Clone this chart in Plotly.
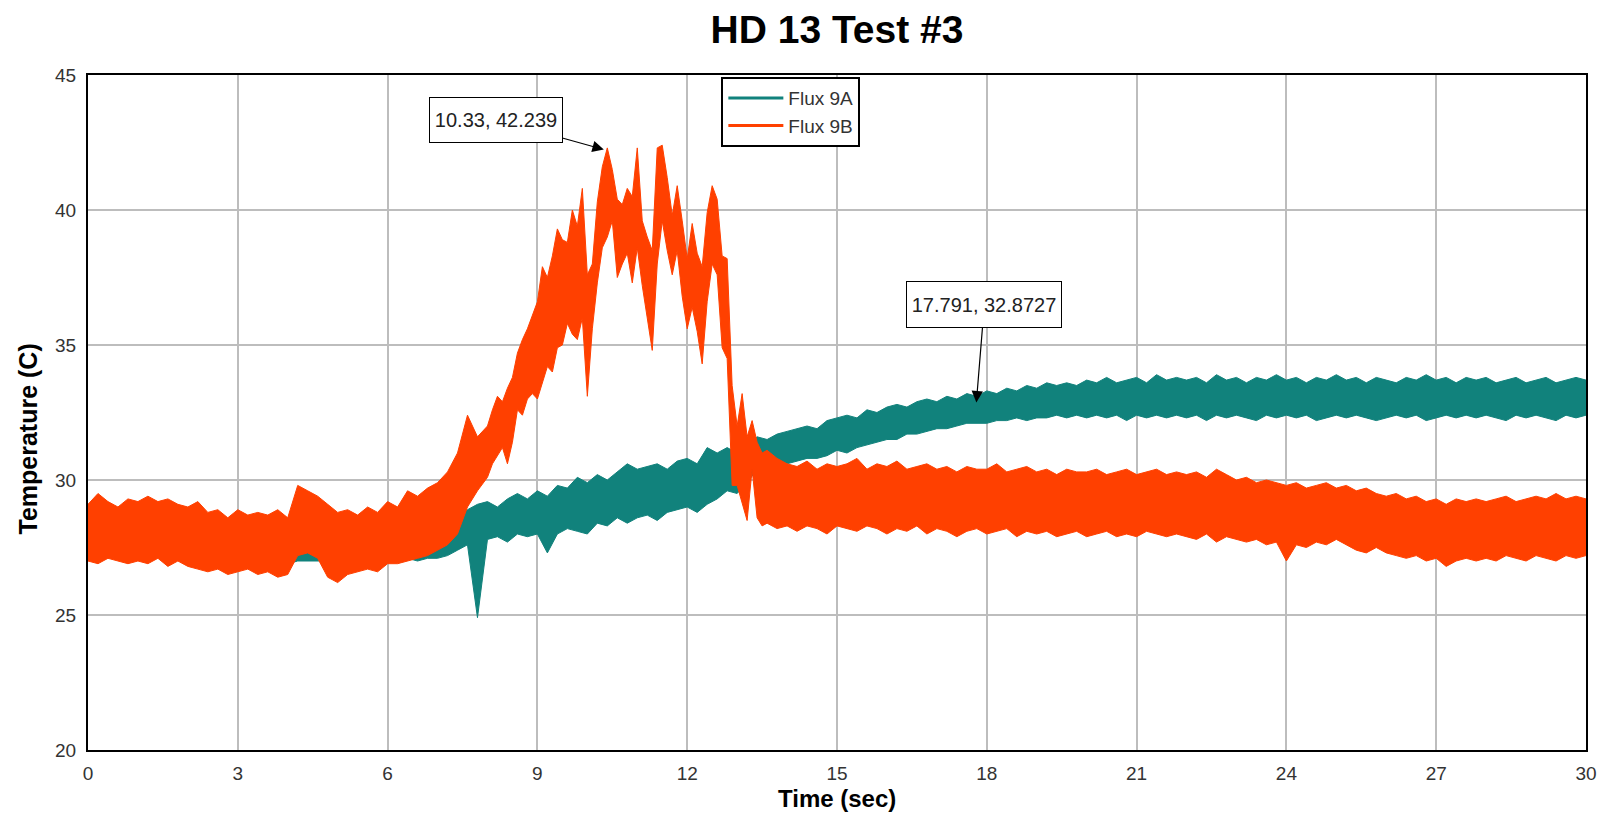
import plotly.graph_objects as go

# ---------------- data ----------------
# Flux 9A sample times: 0.0 .. 30.0 s every 0.2 s
time_9a = [round(i * 0.2, 1) for i in range(151)]
# Flux 9B sample times: 0.2 s steps, finer 0.1 s steps through the 8-13.6 s peak
time_9b = ([round(i * 0.2, 1) for i in range(40)]
           + [round(8.0 + i * 0.1, 1) for i in range(57)]
           + [round(13.8 + i * 0.2, 1) for i in range(82)])

# Flux 9A (teal): upper / lower extent of the noisy trace at each sample time
flux9a_hi = [
    28.7, 28.9, 28.6, 28.8, 28.7, 28.9, 28.8, 28.7, 28.9, 28.6,   # 0-2
    28.5, 28.6, 28.4, 28.5, 28.3, 28.5, 28.4, 28.3, 28.5, 28.3,   # 2-4
    28.4, 28.9, 28.8, 28.7, 28.4, 28.3, 28.4, 28.3, 28.4, 28.5,   # 4-6
    28.4, 28.5, 28.4, 28.5, 28.3, 28.5, 28.4, 28.7, 28.9, 29.1,   # 6-8
    29.2, 29.0, 29.3, 29.5, 29.3, 29.6, 29.4, 29.8, 29.7, 30.1,   # 8-10
    29.9, 30.2, 30.0, 30.3, 30.6, 30.4, 30.5, 30.6, 30.4, 30.7,   # 10-12
    30.8, 30.6, 31.2, 31.0, 31.2, 31.0, 31.3, 31.6, 31.5, 31.7,   # 12-14
    31.8, 31.9, 32.0, 31.9, 32.2, 32.3, 32.4, 32.3, 32.6, 32.5,   # 14-16
    32.7, 32.8, 32.7, 32.9, 33.0, 32.9, 33.1, 33.0, 33.2, 33.1,   # 16-18
    33.3, 33.2, 33.4, 33.3, 33.5, 33.4, 33.6, 33.5, 33.6, 33.5,   # 18-20
    33.7, 33.6, 33.8, 33.6, 33.7, 33.8, 33.6, 33.9, 33.7, 33.8,   # 20-22
    33.7, 33.8, 33.6, 33.9, 33.7, 33.8, 33.6, 33.8, 33.7, 33.9,   # 22-24
    33.7, 33.8, 33.6, 33.8, 33.7, 33.9, 33.7, 33.8, 33.6, 33.8,   # 24-26
    33.7, 33.6, 33.8, 33.7, 33.9, 33.7, 33.8, 33.6, 33.8, 33.7,   # 26-28
    33.8, 33.6, 33.7, 33.8, 33.6, 33.7, 33.8, 33.6, 33.7, 33.8,   # 28-30
    33.7,
]
flux9a_lo = [
    27.2, 27.1, 27.3, 27.2, 27.1, 27.2, 27.0, 27.2, 27.1, 27.2,   # 0-2
    27.0, 27.0, 26.9, 27.0, 26.9, 26.9, 27.0, 26.9, 26.9, 26.9,   # 2-4
    26.9, 27.0, 27.0, 27.0, 27.0, 26.9, 26.9, 26.9, 26.9, 27.0,   # 4-6
    27.0, 27.0, 27.1, 27.0, 27.1, 27.1, 27.2, 27.4, 27.6, 24.9,   # 6-8
    27.8, 27.9, 27.7, 28.0, 27.9, 28.0, 27.3, 28.0, 28.2, 28.1,   # 8-10
    28.0, 28.4, 28.3, 28.6, 28.4, 28.6, 28.7, 28.5, 28.8, 28.9,   # 10-12
    29.0, 28.8, 29.1, 29.3, 29.6, 29.5, 29.9, 30.4, 30.5, 30.6,   # 12-14
    30.6, 30.7, 30.8, 30.8, 30.9, 31.1, 31.0, 31.2, 31.3, 31.4,   # 14-16
    31.5, 31.5, 31.7, 31.7, 31.8, 31.9, 31.9, 32.0, 32.1, 32.1,   # 16-18
    32.1, 32.2, 32.2, 32.3, 32.2, 32.3, 32.3, 32.4, 32.3, 32.4,   # 18-20
    32.3, 32.4, 32.3, 32.4, 32.2, 32.4, 32.3, 32.4, 32.3, 32.4,   # 20-22
    32.3, 32.4, 32.2, 32.4, 32.3, 32.4, 32.3, 32.2, 32.4, 32.3,   # 22-24
    32.4, 32.3, 32.4, 32.2, 32.3, 32.4, 32.3, 32.4, 32.3, 32.2,   # 24-26
    32.3, 32.4, 32.3, 32.4, 32.2, 32.3, 32.4, 32.3, 32.4, 32.3,   # 26-28
    32.4, 32.3, 32.2, 32.4, 32.3, 32.4, 32.3, 32.2, 32.4, 32.3,   # 28-30
    32.4,
]

# Flux 9B (orange-red)
flux9b_hi = [
    29.1, 29.5, 29.2, 29.0, 29.3, 29.2, 29.4, 29.2, 29.3, 29.1,   # 0-2 (0.2 s)
    29.0, 29.2, 28.8, 28.9, 28.6, 28.9, 28.7, 28.8, 28.7, 28.9,   # 2-4
    28.6, 29.8, 29.6, 29.4, 29.1, 28.8, 28.9, 28.7, 29.0, 28.8,   # 4-6
    29.2, 29.0, 29.6, 29.4, 29.7, 29.9, 30.3, 31.0, 32.4, 31.6,   # 6-8
    32.0, 32.6, 33.1, 32.9, 33.4, 33.8, 34.7, 35.2, 35.6, 36.1,   # 8.0-8.9 (0.1 s)
    36.6, 37.9, 37.5, 38.3, 39.3, 38.9, 38.8, 40.0, 39.4, 40.8,   # 9.0-9.9
    37.6, 38.0, 40.3, 41.6, 42.3, 41.5, 40.4, 40.2, 40.8, 40.5,   # 10.0-10.9
    42.3, 39.6, 39.0, 38.5, 42.3, 42.4, 41.2, 39.8, 40.9, 39.6,   # 11.0-11.9
    38.2, 39.5, 38.4, 37.9, 39.9, 40.9, 40.4, 38.3, 38.2, 33.5,   # 12.0-12.9
    32.0, 33.2, 31.6, 32.2, 31.4, 31.0, 31.1,                     # 13.0-13.6
    30.8,                                                         # 13.8 (0.2 s)
    30.6, 30.5, 30.7, 30.4, 30.6, 30.5, 30.6, 30.8, 30.4, 30.6,   # 14-16
    30.5, 30.7, 30.4, 30.5, 30.6, 30.4, 30.5, 30.3, 30.5, 30.4,   # 16-18
    30.4, 30.6, 30.3, 30.4, 30.5, 30.3, 30.4, 30.2, 30.4, 30.3,   # 18-20
    30.3, 30.4, 30.2, 30.3, 30.4, 30.2, 30.3, 30.4, 30.2, 30.3,   # 20-22
    30.2, 30.3, 30.1, 30.4, 30.2, 30.0, 30.1, 29.9, 30.0, 29.9,   # 22-24
    29.8, 29.9, 29.7, 29.8, 29.9, 29.7, 29.8, 29.6, 29.7, 29.5,   # 24-26
    29.4, 29.5, 29.3, 29.4, 29.2, 29.3, 29.1, 29.3, 29.2, 29.3,   # 26-28
    29.2, 29.3, 29.4, 29.2, 29.3, 29.4, 29.3, 29.5, 29.3, 29.4,   # 28-30
    29.3,
]
flux9b_lo = [
    27.0, 26.9, 27.1, 27.0, 26.9, 27.0, 26.9, 27.1, 26.8, 27.0,   # 0-2
    26.8, 26.7, 26.6, 26.7, 26.5, 26.6, 26.7, 26.5, 26.6, 26.4,   # 2-4
    26.5, 27.2, 27.3, 27.1, 26.4, 26.2, 26.5, 26.6, 26.7, 26.6,   # 4-6
    26.9, 26.9, 27.0, 27.1, 27.2, 27.4, 27.6, 28.0, 29.0, 29.6,   # 6-8
    30.1, 30.6, 30.9, 31.2, 30.6, 31.4, 32.6, 32.4, 33.0, 33.2,   # 8.0-8.9
    33.0, 33.6, 34.2, 34.0, 34.9, 35.0, 35.8, 35.4, 35.2, 36.0,   # 9.0-9.9
    33.1, 35.6, 37.3, 38.6, 39.0, 39.6, 37.5, 38.0, 38.4, 37.3,   # 10.0-10.9
    38.6, 37.2, 36.0, 34.8, 38.0, 39.6, 38.5, 37.6, 38.5, 36.8,   # 11.0-11.9
    35.6, 36.4, 35.5, 34.3, 36.6, 38.0, 37.6, 34.9, 34.5, 29.8,   # 12.0-12.9
    29.8, 29.2, 28.5, 30.4, 28.6, 28.3, 28.4,                     # 13.0-13.6
    28.2,                                                         # 13.8
    28.3, 28.1, 28.3, 28.2, 28.0, 28.3, 28.2, 28.1, 28.3, 28.2,   # 14-16
    28.0, 28.2, 28.1, 28.3, 28.0, 28.2, 28.1, 27.9, 28.1, 28.2,   # 16-18
    28.0, 28.1, 28.2, 27.9, 28.1, 28.0, 28.1, 27.9, 28.0, 28.1,   # 18-20
    27.9, 28.0, 28.1, 27.9, 28.0, 27.9, 28.1, 28.0, 27.9, 28.0,   # 20-22
    27.9, 27.8, 28.0, 27.7, 27.9, 27.8, 27.7, 27.8, 27.6, 27.7,   # 22-24
    27.0, 27.6, 27.5, 27.7, 27.6, 27.8, 27.6, 27.4, 27.3, 27.5,   # 24-26
    27.3, 27.2, 27.1, 27.2, 27.0, 27.1, 26.8, 27.0, 27.1, 27.0,   # 26-28
    27.1, 27.0, 27.2, 27.1, 27.0, 27.2, 27.1, 27.0, 27.2, 27.1,   # 28-30
    27.2,
]

series_names = ["Flux 9A", "Flux 9B"]
series_colors = ["#11827C", "#FF4000"]

x_ticks = [0, 3, 6, 9, 12, 15, 18, 21, 24, 27, 30]
y_ticks = [20, 25, 30, 35, 40, 45]

callouts = [(10.33, 42.239), (17.791, 32.8727)]
callout_labels = ["10.33, 42.239", "17.791, 32.8727"]

# ---------------- figure ----------------
FONT = "Liberation Sans, Arial, sans-serif"
fig = go.Figure()

bands = [(time_9a, flux9a_hi, flux9a_lo), (time_9b, flux9b_hi, flux9b_lo)]
for (tt, hi, lo), name, col in zip(bands, series_names, series_colors):
    fig.add_trace(go.Scatter(
        x=tt + tt[::-1], y=hi + lo[::-1],
        mode="lines", fill="toself", fillcolor=col,
        line=dict(color=col, width=1),
        showlegend=False, hoverinfo="skip", name=name))

for name, col in zip(series_names, series_colors):
    fig.add_trace(go.Scatter(x=[None], y=[None], mode="lines", name=name,
                             line=dict(color=col, width=3)))

# callout annotations
offsets = [(-108, -30), (8, -98)]
sizes = [(124, 36), (146, 37)]
for (cx, cy), lab, (ax, ay), (w, h) in zip(callouts, callout_labels, offsets, sizes):
    fig.add_annotation(x=cx, y=cy, xref="x", yref="y", text=lab,
                       showarrow=True, arrowhead=2, arrowsize=1.9, arrowwidth=1.2,
                       arrowcolor="black", ax=ax, ay=ay,
                       bordercolor="black", borderwidth=1, borderpad=4,
                       bgcolor="white", width=w, height=h,
                       font=dict(family=FONT, size=20, color="#222"))

# axis titles
fig.add_annotation(text="Time (sec)", xref="paper", yref="paper", x=0.5, y=-0.0725,
                   showarrow=False, xanchor="center", yanchor="middle",
                   font=dict(family=FONT, size=24, color="black", weight="bold"))
fig.add_annotation(text="Temperature (C)", xref="paper", yref="paper", x=-0.0407, y=0.46,
                   showarrow=False, textangle=-90, xanchor="center", yanchor="middle",
                   font=dict(family=FONT, size=25, color="black", weight="bold"))

axis_common = dict(showgrid=True, gridcolor="#BDBDBD", gridwidth=1.5,
                   showline=True, mirror=True, linecolor="black", linewidth=2,
                   zeroline=False, ticks="", automargin=False,
                   tickfont=dict(family=FONT, size=19, color="#333"))

# page body has an 8 px margin, so the figure is 16 px smaller than the window
fig.update_layout(
    width=1590, height=806,
    margin=dict(l=80, r=12, t=67, b=64),
    paper_bgcolor="white", plot_bgcolor="white",
    title=dict(text="HD 13 Test #3", x=0.5, xref="paper", y=0.9733, yref="container",
               xanchor="center", yanchor="middle",
               font=dict(family=FONT, size=39, color="black", weight="bold")),
    xaxis=dict(range=[0, 30], tickvals=x_ticks, ticklabelstandoff=5, **axis_common),
    yaxis=dict(range=[20, 45], tickvals=y_ticks, ticklabelstandoff=6, **axis_common),
    legend=dict(x=0.4228, y=0.997, xanchor="left", yanchor="top",
                bordercolor="black", borderwidth=2, bgcolor="white",
                font=dict(family=FONT, size=19, color="#333"),
                itemwidth=55, tracegroupgap=0),
    showlegend=True,
)

fig.write_html("out.html")
